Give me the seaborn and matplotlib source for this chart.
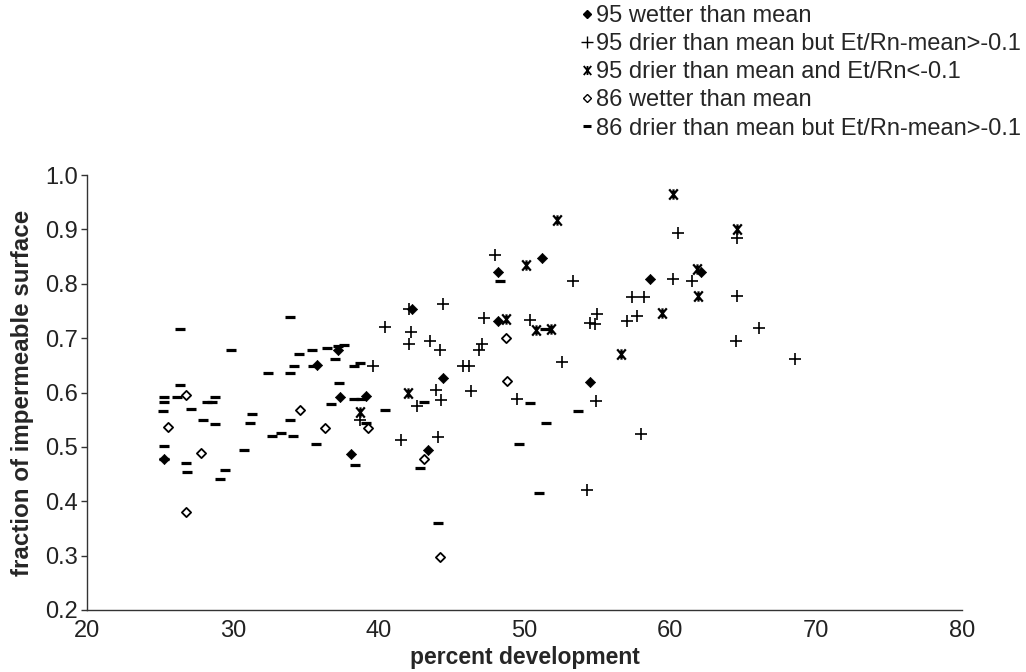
import numpy as np
import pandas as pd
import matplotlib
matplotlib.use("Agg")
import matplotlib.pyplot as plt
import seaborn as sns
from matplotlib.path import Path
from matplotlib.lines import Line2D

# ---------------- data ----------------
x_95_wet = [25.3, 35.8, 37.2, 37.35, 39.1, 38.1, 42.3, 44.4, 43.35, 48.15, 48.15, 51.2, 58.6, 54.5, 62.1]
y_95_wet = [0.478, 0.650, 0.679, 0.591, 0.593, 0.487, 0.754, 0.626, 0.495, 0.821, 0.731, 0.848, 0.808, 0.619, 0.821]

x_95_dry = [39.6, 48.0, 42.05, 44.4, 40.4, 47.2, 42.2, 42.1, 43.5, 44.2, 47.1, 46.85, 45.8, 46.2,
            43.9, 44.3, 46.3, 49.5, 42.6, 41.5, 44.1, 38.7, 53.35, 57.35, 58.2, 54.95, 54.5, 54.85,
            57.0, 57.7, 50.4, 52.55, 54.9, 58.0, 54.3, 60.55, 64.6, 60.2, 61.5, 64.55, 66.05, 64.5, 68.55]
y_95_dry = [0.648, 0.853, 0.754, 0.762, 0.720, 0.737, 0.711, 0.689, 0.695, 0.678, 0.689, 0.679, 0.649, 0.649,
            0.604, 0.587, 0.603, 0.588, 0.575, 0.512, 0.518, 0.550, 0.805, 0.775, 0.776, 0.745, 0.727, 0.726,
            0.732, 0.741, 0.734, 0.656, 0.584, 0.523, 0.420, 0.894, 0.885, 0.808, 0.805, 0.777, 0.718, 0.695, 0.662]

x_95_vdry = [38.7, 42.0, 48.7, 52.2, 50.1, 50.8, 51.8, 56.6, 60.2, 64.55, 61.8, 61.9, 59.4]
y_95_vdry = [0.564, 0.599, 0.736, 0.918, 0.834, 0.715, 0.716, 0.670, 0.965, 0.900, 0.827, 0.777, 0.746]

x_86_wet = [26.8, 25.55, 27.85, 26.8, 34.6, 36.3, 39.3, 48.7, 48.8, 43.1, 44.2]
y_86_wet = [0.595, 0.536, 0.489, 0.380, 0.568, 0.534, 0.534, 0.701, 0.622, 0.477, 0.297]

x_86_dry = [26.4, 29.9, 26.35, 25.3, 26.2, 25.3, 28.75, 28.2, 28.6, 27.15, 25.2, 27.95, 28.75, 25.3, 25.3,
            26.8, 26.86, 29.45, 29.15, 33.9, 37.2, 37.6, 36.45, 35.4, 34.55, 37.0, 35.5, 34.2, 38.3, 38.7,
            32.4, 33.9, 37.25, 38.3, 38.8, 36.7, 39.1, 31.3, 31.2, 33.9, 33.3, 32.7, 34.1, 35.7, 30.75, 38.4,
            48.3, 43.1, 40.4, 42.8, 49.6, 44.1, 51.4, 50.4, 53.7, 51.45, 51.0]
y_86_dry = [0.716, 0.679, 0.613, 0.592, 0.592, 0.583, 0.591, 0.583, 0.583, 0.570, 0.566, 0.549, 0.542, 0.502, 0.478,
            0.471, 0.453, 0.457, 0.441, 0.738, 0.685, 0.687, 0.682, 0.678, 0.670, 0.661, 0.648, 0.648, 0.648, 0.654,
            0.635, 0.635, 0.618, 0.588, 0.588, 0.578, 0.544, 0.560, 0.543, 0.549, 0.526, 0.520, 0.520, 0.505, 0.495, 0.467,
            0.805, 0.583, 0.568, 0.461, 0.505, 0.360, 0.716, 0.580, 0.566, 0.544, 0.415]

labels = ["95 wetter than mean",
          "95 drier than mean but Et/Rn-mean>-0.1",
          "95 drier than mean and Et/Rn<-0.1",
          "86 wetter than mean",
          "86 drier than mean but Et/Rn-mean>-0.1"]
x_ticks = [20, 30, 40, 50, 60, 70, 80]
y_ticks = [0.2, 0.3, 0.4, 0.5, 0.6, 0.7, 0.8, 0.9, 1.0]

# ---------------- style ----------------
sns.set_theme(style="white")
plt.rcParams['font.family'] = ['Liberation Sans', 'DejaVu Sans']

star = Path([(-1, -1.2), (1, 1.2), (-1, 1.2), (1, -1.2), (0, -1.2), (0, 1.2)],
            [Path.MOVETO, Path.LINETO, Path.MOVETO, Path.LINETO, Path.MOVETO, Path.LINETO])

fig = plt.figure(figsize=(10.26, 6.72), dpi=100)
ax = fig.add_axes([87/1026, 1 - 610/672, (962-87)/1026, (610-175)/672])

sns.scatterplot(x=x_86_dry, y=y_86_dry, marker='_', s=42, color='black', linewidth=2.3, ax=ax, zorder=3)
sns.scatterplot(x=x_86_wet, y=y_86_wet, marker='D', s=22, color='white', edgecolor='black', linewidth=1.3, ax=ax, zorder=4)
sns.scatterplot(x=x_95_dry, y=y_95_dry, marker='+', s=85, color='black', linewidth=1.2, ax=ax, zorder=3)
sns.scatterplot(x=x_95_vdry, y=y_95_vdry, marker=star, s=55, color='black', edgecolor='black', linewidth=1.6, ax=ax, zorder=4)
sns.scatterplot(x=x_95_wet, y=y_95_wet, marker='D', s=27, color='black', edgecolor='black', linewidth=0.5, ax=ax, zorder=5)

ax.set_xlim(20, 80)
ax.set_ylim(0.2, 1.0)
ax.set_xticks(x_ticks)
ax.set_yticks(y_ticks)
ax.set_xticklabels([str(t) for t in x_ticks])
ax.set_yticklabels([f"{t:.1f}" for t in y_ticks])
for s in ['top', 'right']:
    ax.spines[s].set_visible(False)
for s in ['left', 'bottom']:
    ax.spines[s].set_color('#333333')
    ax.spines[s].set_linewidth(1.0)
ax.tick_params(axis='y', direction='out', length=4.5, width=1, color='#333333', left=True, pad=2)
ax.tick_params(axis='x', direction='out', length=0, pad=7, bottom=True)
for lab in ax.get_xticklabels() + ax.get_yticklabels():
    lab.set_fontsize(17)
    lab.set_color('#222222')

ax.set_xlabel("percent development", fontsize=16.5, fontweight='bold', labelpad=3)
ax.set_ylabel("fraction of impermeable surface", fontsize=17.4, fontweight='bold')
ax.yaxis.set_label_coords(-0.060, 0.5)

handles = [
    Line2D([], [], linestyle='none', marker='D', markersize=4.5, color='black'),
    Line2D([], [], linestyle='none', marker='+', markersize=8, color='black', markeredgewidth=1.0),
    Line2D([], [], linestyle='none', marker=star, markersize=6.5, color='black', markeredgewidth=1.3),
    Line2D([], [], linestyle='none', marker='D', markersize=4.5, markerfacecolor='white', markeredgecolor='black', markeredgewidth=1.0),
    Line2D([], [], linestyle='none', marker='_', markersize=6, color='black', markeredgewidth=2.2),
]
fig.legend(handles, labels, loc='upper left', bbox_to_anchor=(0.566, 1 - 5/672), frameon=False,
           fontsize=17, handlelength=0.5, handletextpad=0.15, labelspacing=0.26, borderpad=0, borderaxespad=0)

fig.savefig("out.png", dpi=100)
